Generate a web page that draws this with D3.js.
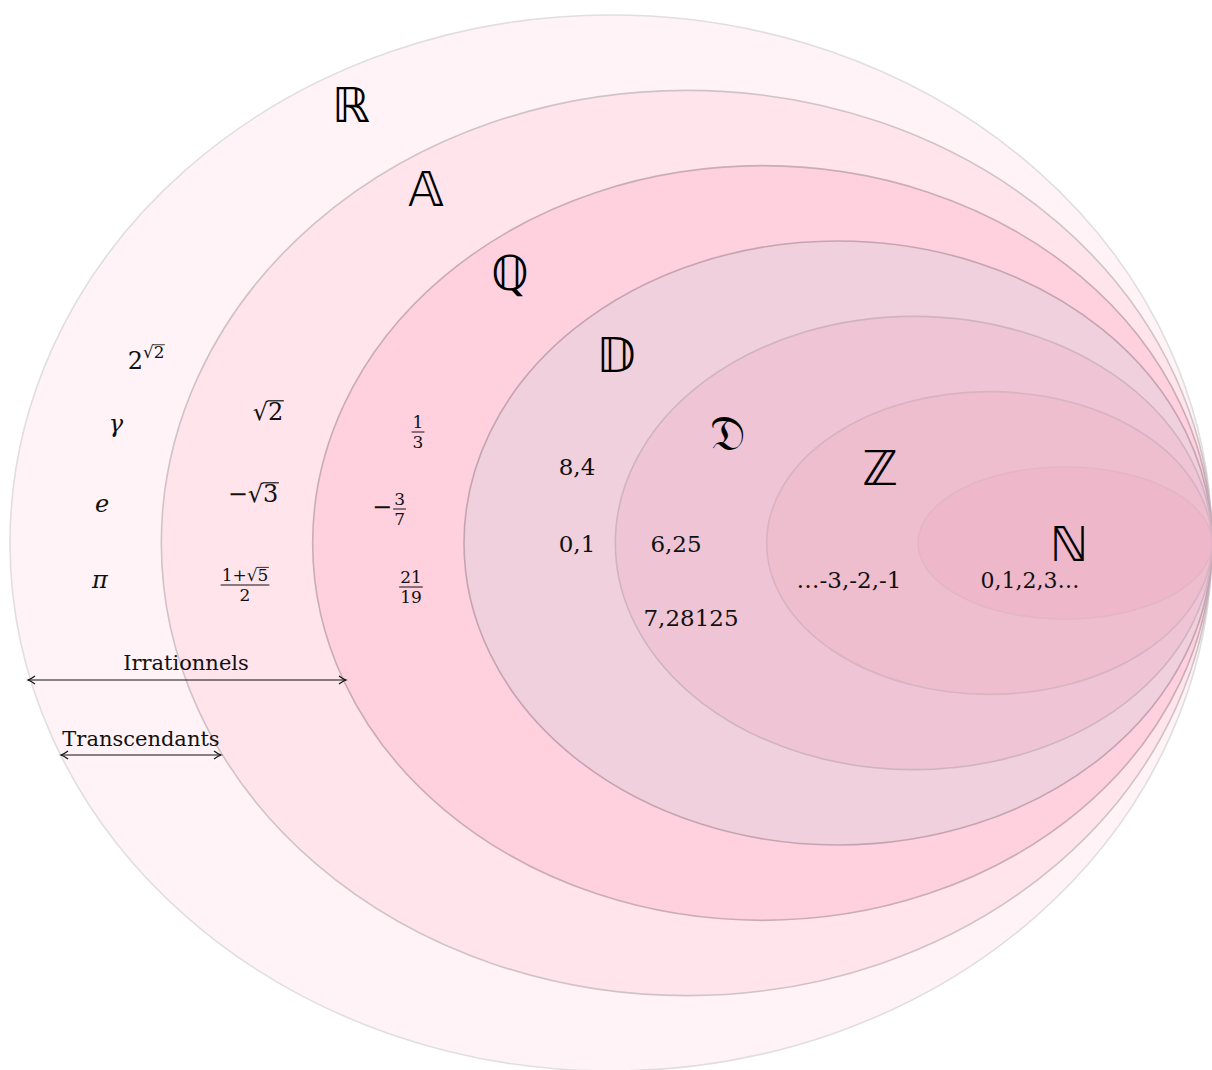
<!DOCTYPE html>
<html>
<head>
<meta charset="utf-8">
<script src="https://cdn.jsdelivr.net/npm/d3@7"></script>
<style>
  html, body { margin: 0; padding: 0; background: #ffffff; }
  svg { display: block; }
</style>
</head>
<body>
<svg id="chart" width="1212" height="1070"></svg>
<script>
// ---------------- DATA ----------------
const setNames = ["ℝ", "𝔸", "ℚ", "𝔻", "𝔇", "ℤ", "ℕ"];
const setIds = ["reels", "algebriques", "rationnels", "decimaux", "dyadiques", "entiers", "naturels"];

// examples per ring (math tokens)
const transcendants = [
  [{ t: "2" }, { t: "√", sup: true }, { t: "2", sup: true, over: true }],
  [{ t: "γ", it: true }],
  [{ t: "e", it: true }],
  [{ t: "π", it: true }]
];
const algebraics = [
  { row: [{ t: "√" }, { t: "2", over: true }] },
  { row: [{ t: "−√" }, { t: "3", over: true }] },
  { num: [{ t: "1+√" }, { t: "5", over: true }], den: [{ t: "2" }] }
];
const rationals = [
  { num: [{ t: "1" }], den: [{ t: "3" }] },
  { pre: "−", num: [{ t: "3" }], den: [{ t: "7" }] },
  { num: [{ t: "21" }], den: [{ t: "19" }] }
];
const decimals = ["8,4", "0,1"];
const dyadics = ["6,25", "7,28125"];
const negIntegers = ["…-3,-2,-1"];
const naturals = ["0,1,2,3…"];
const spanLabels = ["Irrationnels", "Transcendants"];

// ---------------- LAYOUT ----------------
const W = 1212, H = 1070;
const svg = d3.select("#chart");
svg.append("rect").attr("width", W).attr("height", H).attr("fill", "#fff");

const lvl = d3.range(setNames.length);
const leftX = d3.scaleLinear().domain([0, 6]).range([10, 918]);
const radY = d3.scaleLinear().domain([0, 6]).range([528, 76]);
const rightX = 1212, cy = 543;
const fills = ["#fff3f7", "#ffe4ec", "#ffd0dd", "#efd0dc", "#efc5d5", "#eebdce", "#eeb7ca"];
const strokes = ["#e0dedf", "#cfc3c7", "#c8adb8", "#c4a4b3", "#d0b3c1", "#d8b3c3", "#e2b6c7"];

svg.append("g").selectAll("ellipse").data(lvl).join("ellipse")
  .attr("id", i => setIds[i])
  .attr("cx", i => (leftX(i) + rightX) / 2)
  .attr("cy", cy)
  .attr("rx", i => (rightX - leftX(i)) / 2)
  .attr("ry", i => radY(i))
  .attr("fill", i => fills[i])
  .attr("stroke", i => strokes[i])
  .attr("stroke-width", 1.6);

// set labels (double-struck letters)
const setLabelPos = [[351, 122], [426, 206], [510, 290], [616, 372], [728, 450], [880, 485], [1069, 561]];
svg.append("g").selectAll("text").data(lvl).join("text")
  .attr("x", i => setLabelPos[i][0])
  .attr("y", i => setLabelPos[i][1])
  .attr("text-anchor", "middle")
  .attr("font-family", "'DejaVu Sans', sans-serif")
  .attr("font-size", 48)
  .attr("fill", "#000")
  .text(i => setNames[i]);

// ---------------- MATH HELPERS ----------------
const SERIF = "'DejaVu Serif', serif";
const MAIN = 24, SMALL = 17, NUM = 23;

// lays tokens on a row starting at x=0, baseline 0, returns width
function layRow(g, tokens, fs) {
  let x = 0;
  tokens.forEach(tok => {
    const size = tok.sup ? fs * 0.7 : fs;
    const dy = tok.sup ? -fs * 0.45 : 0;
    const t = g.append("text")
      .attr("x", x).attr("y", dy)
      .attr("font-family", SERIF)
      .attr("font-size", size)
      .attr("font-style", tok.it ? "italic" : "normal")
      .attr("fill", "#111")
      .text(tok.t);
    const w = t.node().getComputedTextLength();
    if (tok.over) {
      const oy = dy - size * 0.80;
      g.append("line").attr("x1", x - 0.5).attr("x2", x + w + 0.5)
        .attr("y1", oy).attr("y2", oy)
        .attr("stroke", "#111").attr("stroke-width", Math.max(0.8, size * 0.05));
    }
    x += w;
  });
  return x;
}

function centered(parent, cx, by, builder) {
  const g = parent.append("g");
  const inner = g.append("g");
  const w = builder(inner);
  inner.attr("transform", `translate(${-w / 2},0)`);
  g.attr("transform", `translate(${cx},${by})`);
  return g;
}

function fraction(g, item, fs) {
  // returns width; bar at y=0
  let x0 = 0;
  if (item.pre) {
    const t = g.append("text").attr("x", 0).attr("y", 6)
      .attr("font-family", SERIF).attr("font-size", MAIN).attr("fill", "#111").text(item.pre);
    x0 = t.node().getComputedTextLength() + 1;
  }
  const ng = g.append("g"), dg = g.append("g");
  const nw = layRow(ng, item.num, fs);
  const dw = layRow(dg, item.den, fs);
  const w = Math.max(nw, dw) + 2;
  ng.attr("transform", `translate(${x0 + (w - nw) / 2},${-4})`);
  dg.attr("transform", `translate(${x0 + (w - dw) / 2},${fs * 0.9 + 1})`);
  g.append("line").attr("x1", x0).attr("x2", x0 + w).attr("y1", 0).attr("y2", 0)
    .attr("stroke", "#111").attr("stroke-width", 1);
  return x0 + w;
}

const notes = svg.append("g");

// ring ℝ : transcendental examples
const transPos = [[146, 369], [116, 432], [102, 512], [100, 588]];
transcendants.forEach((tokens, i) => {
  centered(notes, transPos[i][0], transPos[i][1], g => layRow(g, tokens, MAIN));
});

// ring 𝔸 : algebraic irrationals
const algPos = [[268, 420], [253, 502], [245, 585]];
algebraics.forEach((item, i) => {
  centered(notes, algPos[i][0], algPos[i][1], g => item.row ? layRow(g, item.row, MAIN) : fraction(g, item, SMALL));
});

// ring ℚ : rationals (bar positions)
const ratPos = [[418, 432], [389, 509], [411, 587]];
rationals.forEach((item, i) => {
  centered(notes, ratPos[i][0], ratPos[i][1], g => fraction(g, item, SMALL));
});

// plain numeric labels
function plain(list, pos, size) {
  list.forEach((s, i) => {
    notes.append("text").attr("x", pos[i][0]).attr("y", pos[i][1])
      .attr("text-anchor", "middle").attr("font-family", SERIF)
      .attr("font-size", size).attr("fill", "#111").text(s);
  });
}
plain(decimals, [[577, 475], [577, 552]], NUM);
plain(dyadics, [[676, 552], [691, 626]], NUM);
plain(negIntegers, [[849, 588]], 23);
plain(naturals, [[1030, 588]], 22);

// ---------------- SPAN ARROWS ----------------
const defs = svg.append("defs");
defs.append("marker").attr("id", "tip")
  .attr("viewBox", "-10 -6 12 12").attr("refX", 0).attr("refY", 0)
  .attr("markerWidth", 12).attr("markerHeight", 12).attr("markerUnits", "userSpaceOnUse")
  .attr("orient", "auto-start-reverse")
  .append("path").attr("d", "M-7,-4 Q-3,-1 0,0 Q-3,1 -7,4")
  .attr("fill", "none").attr("stroke", "#111").attr("stroke-width", 1.2);

const spans = [
  { x1: 28, x2: 346, y: 680, ty: 670, tx: 186 },
  { x1: 61, x2: 221, y: 755, ty: 746, tx: 141 }
];
spans.forEach((s, i) => {
  svg.append("line").attr("x1", s.x1).attr("x2", s.x2).attr("y1", s.y).attr("y2", s.y)
    .attr("stroke", "#111").attr("stroke-width", 1.2)
    .attr("marker-start", "url(#tip)").attr("marker-end", "url(#tip)");
  svg.append("text").attr("x", s.tx).attr("y", s.ty).attr("text-anchor", "middle")
    .attr("font-family", SERIF).attr("font-size", 21).attr("fill", "#111")
    .text(spanLabels[i]);
});
</script>
</body>
</html>
